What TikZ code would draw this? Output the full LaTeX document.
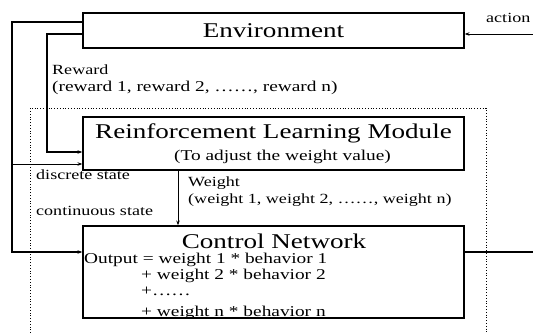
\documentclass[tikz,border=0pt]{standalone}
\usepackage{fontspec}
\setmainfont{Liberation Serif}[FakeStretch=1.29]
\usetikzlibrary{arrows.meta}
\begin{document}
\begin{tikzpicture}[x=1pt,y=-1pt,
  box/.style={draw, line width=1.2pt, minimum width=381pt, inner sep=0pt},
  title/.style={font=\fontsize{21}{24}\selectfont, inner sep=0pt, anchor=base},
  lbl/.style={font=\fontsize{14}{16}\selectfont, inner sep=0pt, anchor=base west},
  mid lbl/.style={lbl, font=\fontsize{15}{17}\selectfont},
  wire/.style={line width=1.6pt},
  thinwire/.style={line width=1pt},
  tip/.style={-{Stealth[length=5pt,width=3.5pt]}},
  ]
\useasboundingbox (0,0) rectangle (533,333);

% dotted frame around the learning part
\draw[dotted, line width=0.8pt] (30,333) -- (30,108) -- (486,108) -- (486,333);

% blocks
\node[box, minimum height=35pt] (env) at (273.5,30.5) {};
\node[box, minimum height=53pt] (rlm) at (273.5,143.5) {};
\node[box, minimum height=92pt] (ctrl) at (273.5,272) {};

% block texts
\node[title] (envt) at (273.5,37) {Environment};
\node[title] (rlmt) at (273.5,138) {Reinforcement Learning Module};
\node[mid lbl, anchor=base] (rlms) at (282.5,160) {(To adjust the weight value)};
\node[title] (ctrlt) at (274,248) {Control Network};
\node[mid lbl] (o1) at (84,263.5) {Output = weight 1 * behavior 1};
\node[mid lbl] (o2) at (141,279.5) {+ weight 2 * behavior 2};
\node[mid lbl] (o3) at (141,295.5) {+……};
\begin{scope}
  \clip (ctrl.north west) rectangle (ctrl.south east);
  \node[mid lbl] (o4) at (141,316) {+ weight n * behavior n};
\end{scope}

% connector labels
\node[lbl] (act) at (486,22) {action};
\node[lbl] (rw) at (52,74.5) {Reward};
\node[mid lbl] (rwl) at (52,91.5) {(reward 1, reward 2, ……, reward n)};
\node[lbl] (ds) at (36,179.5) {discrete state};
\node[lbl] (cs) at (36,215.5) {continuous state};
\node[lbl] (wt) at (188,186.5) {Weight};
\node[lbl] (wtl) at (188,203.5) {(weight 1, weight 2, ……, weight n)};

% connector end points
\coordinate (lft) at (12,0);
\coordinate (mid) at (47,0);
\coordinate (wx) at (178,0);
\coordinate (actin) at (533,34);
\coordinate (outend) at (533,252);
\coordinate (eo) at ([yshift=8.5pt]env.west);
\coordinate (ei) at ([yshift=-3.5pt]env.west);
\coordinate (rin) at ([yshift=-8.5pt]rlm.west);
\coordinate (rds) at ([yshift=-20.5pt]rlm.west);
\coordinate (cin) at ([yshift=20pt]ctrl.west);
\coordinate (cout) at ([yshift=20pt]ctrl.east);

% connectors
\draw[thinwire, tip] (actin) -- (actin -| env.east);
\draw[wire, tip] (eo) -| (cin -| lft) -- (cin);
\draw[wire, tip] (ei) -| (rin -| mid) -- (rin);
\draw[thinwire, tip] (rds -| lft) -- (rds);
\draw[thinwire, tip] (rlm.south -| wx) -- (ctrl.north -| wx);
\draw[wire] (cout) -- (outend);
\end{tikzpicture}
\end{document}
